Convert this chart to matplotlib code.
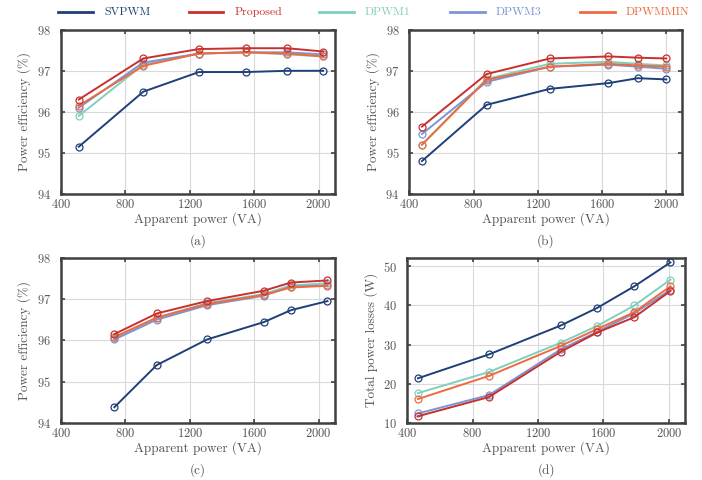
import numpy as np
import matplotlib
matplotlib.use("Agg")
import matplotlib.pyplot as plt
from matplotlib.lines import Line2D

plt.rcParams['font.family'] = ['cmr10', 'DejaVu Serif']
plt.rcParams['mathtext.fontset'] = 'cm'
plt.rcParams['axes.formatter.use_mathtext'] = True

TEXT = '#555555'

methods = ['SVPWM', 'Proposed', 'DPWM1', 'DPWM3', 'DPWMMIN']
colors = ['#1f3f78', '#c8302e', '#80cfbd', '#7b94d6', '#ee6a3f']

# (a) efficiency
pa_a = [510, 910, 1256, 1550, 1804, 2027]
eff_a = {
    'SVPWM':    [95.15, 96.49, 96.97, 96.97, 97.00, 97.00],
    'Proposed': [96.30, 97.30, 97.53, 97.55, 97.55, 97.47],
    'DPWM1':    [95.90, 97.15, 97.42, 97.45, 97.40, 97.35],
    'DPWM3':    [96.10, 97.20, 97.42, 97.45, 97.45, 97.40],
    'DPWMMIN':  [96.15, 97.12, 97.42, 97.45, 97.42, 97.35],
}

# (b) efficiency
pa_b = [479, 881, 1275, 1640, 1823, 2000]
eff_b = {
    'SVPWM':    [94.80, 96.17, 96.56, 96.70, 96.82, 96.79],
    'Proposed': [95.64, 96.92, 97.30, 97.35, 97.32, 97.30],
    'DPWM1':    [95.20, 96.80, 97.17, 97.22, 97.17, 97.13],
    'DPWM3':    [95.46, 96.73, 97.10, 97.15, 97.10, 97.05],
    'DPWMMIN':  [95.20, 96.78, 97.10, 97.17, 97.13, 97.10],
}

# (c) efficiency
pa_c = [731, 994, 1306, 1658, 1827, 2054]
eff_c = {
    'SVPWM':    [94.38, 95.40, 96.02, 96.44, 96.73, 96.95],
    'Proposed': [96.15, 96.65, 96.95, 97.20, 97.40, 97.45],
    'DPWM1':    [96.05, 96.55, 96.90, 97.12, 97.33, 97.38],
    'DPWM3':    [96.02, 96.50, 96.85, 97.08, 97.30, 97.33],
    'DPWMMIN':  [96.08, 96.55, 96.88, 97.10, 97.28, 97.32],
}

# (d) total losses
pa_d = [466, 900, 1340, 1563, 1789, 2010]
loss_d = {
    'SVPWM':    [21.4, 27.5, 34.9, 39.4, 44.9, 51.0],
    'Proposed': [11.7, 16.6, 28.2, 33.1, 37.0, 43.7],
    'DPWM1':    [17.6, 23.0, 30.5, 34.8, 40.0, 46.6],
    'DPWM3':    [12.4, 17.1, 28.8, 33.3, 38.0, 44.0],
    'DPWMMIN':  [16.1, 22.0, 29.7, 34.0, 38.3, 44.9],
}

W, H = 702, 480
fig = plt.figure(figsize=(W / 100, H / 100), dpi=100)

panels = [
    ([0.087, 0.596, 0.390, 0.342], pa_a, eff_a, '(a)'),
    ([0.583, 0.596, 0.389, 0.342], pa_b, eff_b, '(b)'),
    ([0.087, 0.119, 0.390, 0.344], pa_c, eff_c, '(c)'),
    ([0.580, 0.119, 0.396, 0.344], pa_d, loss_d, '(d)'),
]

draw_order = ['SVPWM', 'DPWM1', 'DPWM3', 'DPWMMIN', 'Proposed']
cmap = dict(zip(methods, colors))

for rect, px, series, tag in panels:
    ax = fig.add_axes(rect)
    for m in draw_order:
        ax.plot(px, series[m], '-', color=cmap[m], lw=1.4, marker='o', ms=5,
                mfc='none', mew=0.9, zorder=3)
    ax.set_xlim(400, 2100)
    ax.set_xticks([400, 800, 1200, 1600, 2000])
    if tag == '(d)':
        ax.set_ylim(10, 52.2)
        ax.set_yticks([10, 20, 30, 40, 50])
        ax.set_ylabel('Total power losses (W)', fontsize=9.5, color=TEXT,
                      labelpad=4)
    else:
        ax.set_ylim(94, 98)
        ax.set_yticks([94, 95, 96, 97, 98])
        ax.set_ylabel('Power efficiency (%)', fontsize=9.5, color=TEXT,
                      labelpad=4)
    ax.set_xlabel('Apparent power (VA)', fontsize=9.5, color=TEXT, labelpad=1)
    ax.grid(True, color='#d9d9d9', lw=0.8, zorder=0)
    ax.tick_params(direction='in', top=True, right=True, length=3, width=1.2,
                   color='#404040', labelsize=9, labelcolor=TEXT)
    ax.tick_params(axis='y', pad=7)
    ax.tick_params(axis='x', pad=3)
    for s in ax.spines.values():
        s.set_color('#404040')
        s.set_linewidth(1.8)
    ax.text(0.5, -0.287, tag, transform=ax.transAxes, ha='center',
            va='center', fontsize=9.5, color=TEXT)

# legend row across the top
for i, (m, c) in enumerate(zip(methods, colors)):
    x0 = 58 + 130.5 * i
    y0 = 1 - 12 / H
    fig.add_artist(Line2D([x0 / W, (x0 + 35) / W], [y0, y0],
                          color=c, lw=2, transform=fig.transFigure))
    fig.text((x0 + 46) / W, y0, m, color=c, fontsize=8.5,
             va='center', ha='left',
             fontweight='bold' if m == 'SVPWM' else 'normal')

fig.savefig('out.png', dpi=100)
